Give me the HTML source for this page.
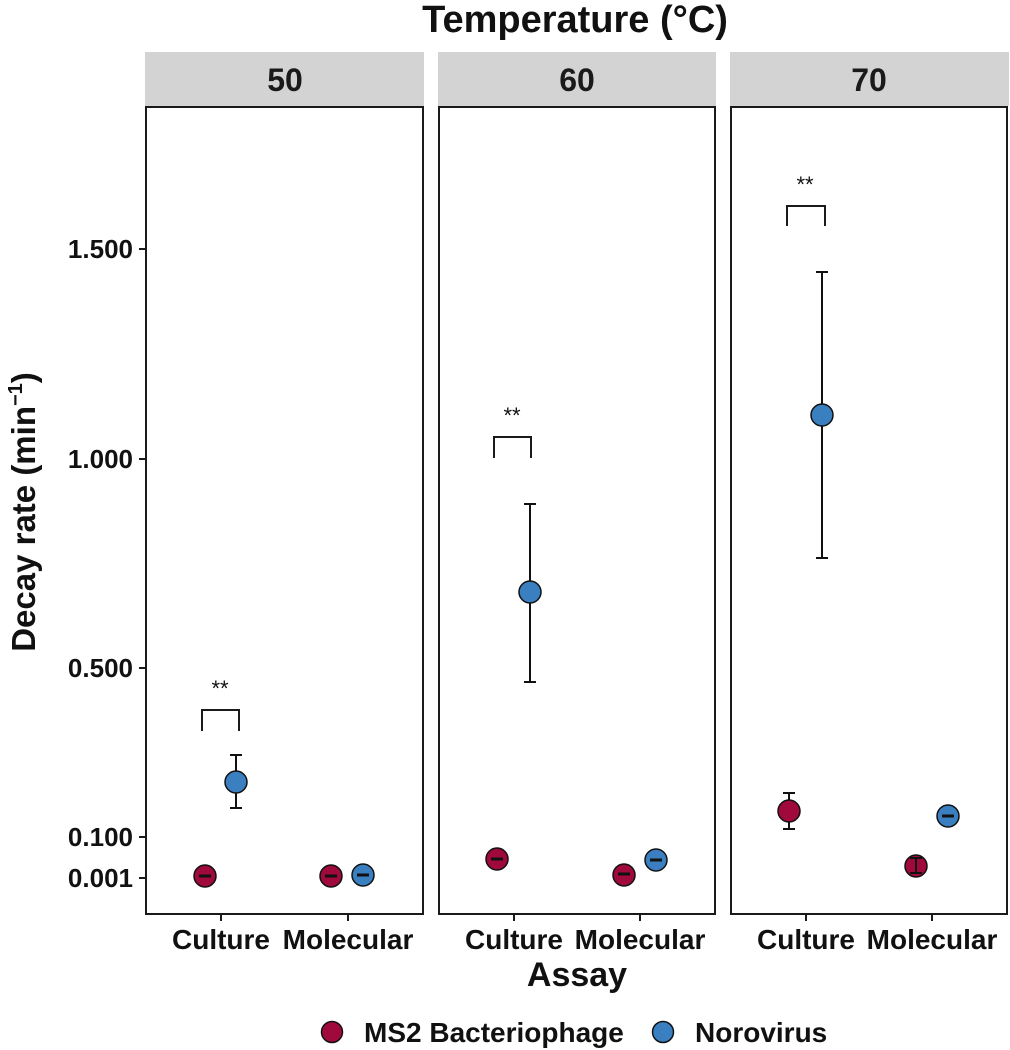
<!DOCTYPE html>
<html><head><meta charset="utf-8"><style>
html,body{margin:0;padding:0;background:#fff;}
svg{display:block;font-family:"Liberation Sans",Arial,sans-serif;}
</style></head><body>
<svg width="1010" height="1050" viewBox="0 0 1010 1050" xmlns="http://www.w3.org/2000/svg">
<text x="575" y="32" text-anchor="middle" font-size="38" font-weight="bold" fill="#111">Temperature (°C)</text>
<rect x="145" y="52" width="279" height="54" fill="#d3d3d3"/>
<rect x="438" y="52" width="278" height="54" fill="#d3d3d3"/>
<rect x="730" y="52" width="279" height="54" fill="#d3d3d3"/>
<g font-size="32" font-weight="bold" fill="#1a1a1a" text-anchor="middle">
<text x="285" y="91">50</text><text x="577" y="91">60</text><text x="869" y="91">70</text></g>
<g fill="none" stroke="#1a1a1a" stroke-width="2">
<rect x="146" y="107" width="277" height="807"/>
<rect x="439" y="107" width="276" height="807"/>
<rect x="731" y="107" width="276" height="807"/>
</g>
<g stroke="#1a1a1a" stroke-width="2">
<line x1="139" y1="249" x2="146" y2="249"/><line x1="139" y1="459" x2="146" y2="459"/>
<line x1="139" y1="668" x2="146" y2="668"/><line x1="139" y1="837" x2="146" y2="837"/>
<line x1="139" y1="878" x2="146" y2="878"/>
<line x1="221" y1="914" x2="221" y2="921"/><line x1="348" y1="914" x2="348" y2="921"/>
<line x1="514" y1="914" x2="514" y2="921"/><line x1="640" y1="914" x2="640" y2="921"/>
<line x1="806" y1="914" x2="806" y2="921"/><line x1="932" y1="914" x2="932" y2="921"/>
</g>
<g font-size="26" font-weight="bold" fill="#111" text-anchor="end">
<text x="133" y="258">1.500</text><text x="133" y="468">1.000</text>
<text x="133" y="677">0.500</text><text x="133" y="846">0.100</text><text x="133" y="887">0.001</text></g>
<g font-size="28" font-weight="bold" fill="#111" text-anchor="middle">
<text x="221" y="949">Culture</text><text x="348" y="949">Molecular</text>
<text x="514" y="949">Culture</text><text x="640" y="949">Molecular</text>
<text x="806" y="949">Culture</text><text x="932" y="949">Molecular</text></g>
<text x="577" y="986" text-anchor="middle" font-size="34" font-weight="bold" fill="#111">Assay</text>
<text transform="translate(35,512) rotate(-90)" text-anchor="middle" font-size="33" font-weight="bold" fill="#111">Decay rate (min<tspan font-size="20" dy="-13">−1</tspan><tspan dy="13">)</tspan></text>
<g fill="none" stroke="#1a1a1a" stroke-width="2">
<polyline points="202,731 202,710 239,710 239,731"/>
<polyline points="494,458 494,437 531,437 531,458"/>
<polyline points="787,226 787,206 825,206 825,226"/>
</g>
<g font-size="22" fill="#111" text-anchor="middle">
<text x="220" y="696">**</text><text x="512" y="423">**</text><text x="805" y="192">**</text></g>
<g stroke="#111" stroke-width="2">
<line x1="236" y1="755" x2="236" y2="808"/><line x1="230" y1="755" x2="242" y2="755"/><line x1="230" y1="808" x2="242" y2="808"/>
<line x1="530" y1="504" x2="530" y2="682"/><line x1="524" y1="504" x2="536" y2="504"/><line x1="524" y1="682" x2="536" y2="682"/>
<line x1="822" y1="272" x2="822" y2="558"/><line x1="816" y1="272" x2="828" y2="272"/><line x1="816" y1="558" x2="828" y2="558"/>
<line x1="789" y1="793" x2="789" y2="829"/><line x1="783" y1="793" x2="795" y2="793"/><line x1="783" y1="829" x2="795" y2="829"/>
</g>
<g stroke="#111" stroke-width="1.5">
<circle cx="205" cy="876" r="11" fill="#a0093c"/>
<circle cx="331" cy="876" r="11" fill="#a0093c"/>
<circle cx="363" cy="875" r="11" fill="#3a80c0"/>
<circle cx="236" cy="782" r="11" fill="#3a80c0"/>
<circle cx="497" cy="859" r="11" fill="#a0093c"/>
<circle cx="530" cy="592" r="11" fill="#3a80c0"/>
<circle cx="624" cy="875" r="11" fill="#a0093c"/>
<circle cx="656" cy="860" r="11" fill="#3a80c0"/>
<circle cx="789" cy="811" r="11" fill="#a0093c"/>
<circle cx="822" cy="415" r="11" fill="#3a80c0"/>
<circle cx="916" cy="866" r="11" fill="#a0093c"/>
<circle cx="948" cy="816" r="11" fill="#3a80c0"/>
</g>
<g stroke="#111" stroke-width="3">
<line x1="199" y1="876" x2="211" y2="876"/><line x1="325" y1="876" x2="337" y2="876"/>
<line x1="357" y1="875" x2="369" y2="875"/><line x1="491" y1="859" x2="503" y2="859"/>
<line x1="618" y1="874" x2="630" y2="874"/><line x1="650" y1="860" x2="662" y2="860"/>
<line x1="942" y1="816" x2="954" y2="816"/>
</g>
<g stroke="#111" stroke-width="2">
<line x1="916" y1="858" x2="916" y2="873"/><line x1="910" y1="858" x2="922" y2="858"/><line x1="910" y1="873" x2="922" y2="873"/>
</g>
<circle cx="332" cy="1032" r="10.5" fill="#a0093c" stroke="#111" stroke-width="1.5"/>
<text x="364" y="1042" font-size="28" font-weight="bold" fill="#111">MS2 Bacteriophage</text>
<circle cx="663" cy="1032" r="10.5" fill="#3a80c0" stroke="#111" stroke-width="1.5"/>
<text x="695" y="1042" font-size="28" font-weight="bold" fill="#111">Norovirus</text>
</svg>
</body></html>
